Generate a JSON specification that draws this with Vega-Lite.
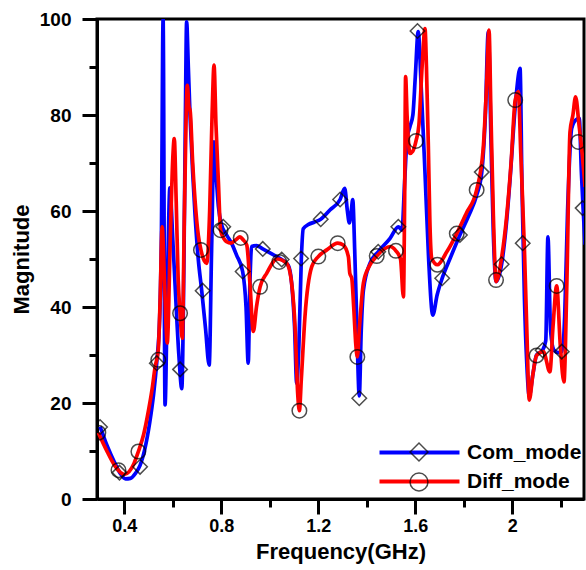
{
  "$schema": "https://vega.github.io/schema/vega-lite/v6.json",
  "width": 487,
  "height": 480,
  "autosize": {"type": "none"},
  "padding": {"left": 97, "top": 19, "right": 2, "bottom": 71},
  "background": "white",
  "config": {
    "view": {"stroke": "black", "strokeWidth": 3},
    "font": "Liberation Sans",
    "axis": {
      "grid": false,
      "domainColor": "black",
      "domainWidth": 3,
      "tickColor": "black",
      "tickWidth": 3,
      "labelColor": "black",
      "labelFont": "Liberation Sans",
      "labelFontWeight": "bold",
      "labelFontSize": 18,
      "labelPadding": 3,
      "titleFont": "Liberation Sans",
      "titleFontWeight": "bold",
      "titleFontSize": 22,
      "titleColor": "black"
    }
  },
  "datasets": {
    "curves": [
      {"freq":0.300,"mag":15.1,"series":"Com_mode"},{"freq":0.330,"mag":11.0,"series":"Com_mode"},{"freq":0.360,"mag":7.6,"series":"Com_mode"},{"freq":0.385,"mag":5.2,"series":"Com_mode"},{"freq":0.405,"mag":4.2,"series":"Com_mode"},{"freq":0.425,"mag":4.3,"series":"Com_mode"},{"freq":0.445,"mag":5.3,"series":"Com_mode"},{"freq":0.465,"mag":7.0,"series":"Com_mode"},{"freq":0.485,"mag":10.5,"series":"Com_mode"},{"freq":0.505,"mag":16.0,"series":"Com_mode"},{"freq":0.520,"mag":21.5,"series":"Com_mode"},{"freq":0.534,"mag":28.6,"series":"Com_mode"},{"freq":0.546,"mag":38,"series":"Com_mode"},{"freq":0.553,"mag":55,"series":"Com_mode"},{"freq":0.560,"mag":100,"series":"Com_mode"},{"freq":0.568,"mag":19.6,"series":"Com_mode"},{"freq":0.578,"mag":45,"series":"Com_mode"},{"freq":0.588,"mag":64.8,"series":"Com_mode"},{"freq":0.600,"mag":54,"series":"Com_mode"},{"freq":0.612,"mag":42,"series":"Com_mode"},{"freq":0.625,"mag":30,"series":"Com_mode"},{"freq":0.637,"mag":23,"series":"Com_mode"},{"freq":0.646,"mag":50,"series":"Com_mode"},{"freq":0.652,"mag":80,"series":"Com_mode"},{"freq":0.657,"mag":99.4,"series":"Com_mode"},{"freq":0.664,"mag":90,"series":"Com_mode"},{"freq":0.671,"mag":80,"series":"Com_mode"},{"freq":0.682,"mag":68,"series":"Com_mode"},{"freq":0.692,"mag":59,"series":"Com_mode"},{"freq":0.705,"mag":50,"series":"Com_mode"},{"freq":0.719,"mag":43.5,"series":"Com_mode"},{"freq":0.735,"mag":35.5,"series":"Com_mode"},{"freq":0.750,"mag":27.9,"series":"Com_mode"},{"freq":0.760,"mag":52,"series":"Com_mode"},{"freq":0.770,"mag":74.4,"series":"Com_mode"},{"freq":0.778,"mag":68,"series":"Com_mode"},{"freq":0.788,"mag":61,"series":"Com_mode"},{"freq":0.800,"mag":57.3,"series":"Com_mode"},{"freq":0.822,"mag":55,"series":"Com_mode"},{"freq":0.845,"mag":53,"series":"Com_mode"},{"freq":0.863,"mag":50.8,"series":"Com_mode"},{"freq":0.888,"mag":47.4,"series":"Com_mode"},{"freq":0.902,"mag":40,"series":"Com_mode"},{"freq":0.911,"mag":28.3,"series":"Com_mode"},{"freq":0.918,"mag":45,"series":"Com_mode"},{"freq":0.925,"mag":52.6,"series":"Com_mode"},{"freq":0.945,"mag":52.8,"series":"Com_mode"},{"freq":0.971,"mag":52.1,"series":"Com_mode"},{"freq":1.010,"mag":51,"series":"Com_mode"},{"freq":1.049,"mag":49.9,"series":"Com_mode"},{"freq":1.076,"mag":48.7,"series":"Com_mode"},{"freq":1.090,"mag":45,"series":"Com_mode"},{"freq":1.102,"mag":36,"series":"Com_mode"},{"freq":1.111,"mag":24.1,"series":"Com_mode"},{"freq":1.120,"mag":32,"series":"Com_mode"},{"freq":1.130,"mag":50,"series":"Com_mode"},{"freq":1.138,"mag":56.3,"series":"Com_mode"},{"freq":1.160,"mag":57.2,"series":"Com_mode"},{"freq":1.185,"mag":57.7,"series":"Com_mode"},{"freq":1.210,"mag":58.3,"series":"Com_mode"},{"freq":1.248,"mag":60.2,"series":"Com_mode"},{"freq":1.290,"mag":62.4,"series":"Com_mode"},{"freq":1.309,"mag":64.7,"series":"Com_mode"},{"freq":1.320,"mag":60,"series":"Com_mode"},{"freq":1.328,"mag":57.5,"series":"Com_mode"},{"freq":1.336,"mag":60,"series":"Com_mode"},{"freq":1.342,"mag":62.4,"series":"Com_mode"},{"freq":1.350,"mag":52,"series":"Com_mode"},{"freq":1.358,"mag":38,"series":"Com_mode"},{"freq":1.369,"mag":21.5,"series":"Com_mode"},{"freq":1.377,"mag":35,"series":"Com_mode"},{"freq":1.386,"mag":43.5,"series":"Com_mode"},{"freq":1.413,"mag":49.1,"series":"Com_mode"},{"freq":1.447,"mag":51.5,"series":"Com_mode"},{"freq":1.496,"mag":54.3,"series":"Com_mode"},{"freq":1.530,"mag":56.7,"series":"Com_mode"},{"freq":1.545,"mag":56,"series":"Com_mode"},{"freq":1.556,"mag":66,"series":"Com_mode"},{"freq":1.566,"mag":75,"series":"Com_mode"},{"freq":1.578,"mag":77.6,"series":"Com_mode"},{"freq":1.590,"mag":80,"series":"Com_mode"},{"freq":1.600,"mag":88,"series":"Com_mode"},{"freq":1.612,"mag":97.4,"series":"Com_mode"},{"freq":1.625,"mag":85,"series":"Com_mode"},{"freq":1.640,"mag":68,"series":"Com_mode"},{"freq":1.655,"mag":50,"series":"Com_mode"},{"freq":1.672,"mag":38.3,"series":"Com_mode"},{"freq":1.690,"mag":42.5,"series":"Com_mode"},{"freq":1.711,"mag":46,"series":"Com_mode"},{"freq":1.745,"mag":50.3,"series":"Com_mode"},{"freq":1.784,"mag":55,"series":"Com_mode"},{"freq":1.820,"mag":59,"series":"Com_mode"},{"freq":1.853,"mag":63.3,"series":"Com_mode"},{"freq":1.874,"mag":68,"series":"Com_mode"},{"freq":1.889,"mag":80,"series":"Com_mode"},{"freq":1.901,"mag":97.4,"series":"Com_mode"},{"freq":1.912,"mag":75,"series":"Com_mode"},{"freq":1.922,"mag":55,"series":"Com_mode"},{"freq":1.933,"mag":45.3,"series":"Com_mode"},{"freq":1.956,"mag":48.9,"series":"Com_mode"},{"freq":1.975,"mag":57,"series":"Com_mode"},{"freq":1.990,"mag":66.1,"series":"Com_mode"},{"freq":2.015,"mag":83.5,"series":"Com_mode"},{"freq":2.032,"mag":89.7,"series":"Com_mode"},{"freq":2.040,"mag":65,"series":"Com_mode"},{"freq":2.050,"mag":42,"series":"Com_mode"},{"freq":2.060,"mag":28,"series":"Com_mode"},{"freq":2.070,"mag":21.5,"series":"Com_mode"},{"freq":2.085,"mag":26,"series":"Com_mode"},{"freq":2.100,"mag":30,"series":"Com_mode"},{"freq":2.125,"mag":31,"series":"Com_mode"},{"freq":2.138,"mag":33,"series":"Com_mode"},{"freq":2.147,"mag":54.6,"series":"Com_mode"},{"freq":2.158,"mag":35,"series":"Com_mode"},{"freq":2.172,"mag":31,"series":"Com_mode"},{"freq":2.190,"mag":30.5,"series":"Com_mode"},{"freq":2.204,"mag":30.7,"series":"Com_mode"},{"freq":2.216,"mag":38,"series":"Com_mode"},{"freq":2.228,"mag":60,"series":"Com_mode"},{"freq":2.245,"mag":77.2,"series":"Com_mode"},{"freq":2.262,"mag":79,"series":"Com_mode"},{"freq":2.276,"mag":79.3,"series":"Com_mode"},{"freq":2.285,"mag":68,"series":"Com_mode"},{"freq":2.292,"mag":60.6,"series":"Com_mode"},{"freq":2.300,"mag":53,"series":"Com_mode"},
      {"freq":0.293,"mag":13.8,"series":"Diff_mode"},{"freq":0.330,"mag":9.8,"series":"Diff_mode"},{"freq":0.360,"mag":7.0,"series":"Diff_mode"},{"freq":0.385,"mag":5.5,"series":"Diff_mode"},{"freq":0.400,"mag":5.1,"series":"Diff_mode"},{"freq":0.420,"mag":5.7,"series":"Diff_mode"},{"freq":0.440,"mag":7.4,"series":"Diff_mode"},{"freq":0.458,"mag":9.9,"series":"Diff_mode"},{"freq":0.480,"mag":13.5,"series":"Diff_mode"},{"freq":0.500,"mag":18.5,"series":"Diff_mode"},{"freq":0.515,"mag":23.0,"series":"Diff_mode"},{"freq":0.527,"mag":27.5,"series":"Diff_mode"},{"freq":0.540,"mag":31,"series":"Diff_mode"},{"freq":0.548,"mag":42,"series":"Diff_mode"},{"freq":0.556,"mag":56.7,"series":"Diff_mode"},{"freq":0.566,"mag":45,"series":"Diff_mode"},{"freq":0.577,"mag":32.5,"series":"Diff_mode"},{"freq":0.590,"mag":55,"series":"Diff_mode"},{"freq":0.600,"mag":71,"series":"Diff_mode"},{"freq":0.606,"mag":75.1,"series":"Diff_mode"},{"freq":0.614,"mag":62,"series":"Diff_mode"},{"freq":0.622,"mag":46,"series":"Diff_mode"},{"freq":0.630,"mag":38.7,"series":"Diff_mode"},{"freq":0.639,"mag":33.5,"series":"Diff_mode"},{"freq":0.648,"mag":60,"series":"Diff_mode"},{"freq":0.660,"mag":86.2,"series":"Diff_mode"},{"freq":0.666,"mag":82,"series":"Diff_mode"},{"freq":0.672,"mag":80.7,"series":"Diff_mode"},{"freq":0.682,"mag":70,"series":"Diff_mode"},{"freq":0.692,"mag":62,"series":"Diff_mode"},{"freq":0.705,"mag":55,"series":"Diff_mode"},{"freq":0.716,"mag":51.9,"series":"Diff_mode"},{"freq":0.730,"mag":49.6,"series":"Diff_mode"},{"freq":0.740,"mag":49.1,"series":"Diff_mode"},{"freq":0.752,"mag":60,"series":"Diff_mode"},{"freq":0.762,"mag":80,"series":"Diff_mode"},{"freq":0.770,"mag":90.4,"series":"Diff_mode"},{"freq":0.778,"mag":78,"series":"Diff_mode"},{"freq":0.788,"mag":66.1,"series":"Diff_mode"},{"freq":0.797,"mag":56,"series":"Diff_mode"},{"freq":0.810,"mag":54.3,"series":"Diff_mode"},{"freq":0.822,"mag":53.6,"series":"Diff_mode"},{"freq":0.840,"mag":53.3,"series":"Diff_mode"},{"freq":0.860,"mag":54,"series":"Diff_mode"},{"freq":0.877,"mag":54.6,"series":"Diff_mode"},{"freq":0.890,"mag":54,"series":"Diff_mode"},{"freq":0.905,"mag":52.9,"series":"Diff_mode"},{"freq":0.918,"mag":45,"series":"Diff_mode"},{"freq":0.932,"mag":34.9,"series":"Diff_mode"},{"freq":0.945,"mag":40,"series":"Diff_mode"},{"freq":0.960,"mag":44.2,"series":"Diff_mode"},{"freq":0.987,"mag":47,"series":"Diff_mode"},{"freq":1.030,"mag":50,"series":"Diff_mode"},{"freq":1.070,"mag":49.1,"series":"Diff_mode"},{"freq":1.090,"mag":45,"series":"Diff_mode"},{"freq":1.105,"mag":35,"series":"Diff_mode"},{"freq":1.115,"mag":22,"series":"Diff_mode"},{"freq":1.122,"mag":18.4,"series":"Diff_mode"},{"freq":1.130,"mag":25,"series":"Diff_mode"},{"freq":1.145,"mag":38,"series":"Diff_mode"},{"freq":1.173,"mag":48.4,"series":"Diff_mode"},{"freq":1.200,"mag":50.5,"series":"Diff_mode"},{"freq":1.235,"mag":51.9,"series":"Diff_mode"},{"freq":1.280,"mag":53.3,"series":"Diff_mode"},{"freq":1.303,"mag":52.9,"series":"Diff_mode"},{"freq":1.324,"mag":50.5,"series":"Diff_mode"},{"freq":1.330,"mag":47,"series":"Diff_mode"},{"freq":1.338,"mag":46,"series":"Diff_mode"},{"freq":1.346,"mag":40,"series":"Diff_mode"},{"freq":1.355,"mag":32,"series":"Diff_mode"},{"freq":1.361,"mag":29.6,"series":"Diff_mode"},{"freq":1.370,"mag":36,"series":"Diff_mode"},{"freq":1.386,"mag":45,"series":"Diff_mode"},{"freq":1.410,"mag":48.5,"series":"Diff_mode"},{"freq":1.441,"mag":50.6,"series":"Diff_mode"},{"freq":1.496,"mag":52.6,"series":"Diff_mode"},{"freq":1.520,"mag":51.7,"series":"Diff_mode"},{"freq":1.539,"mag":50,"series":"Diff_mode"},{"freq":1.551,"mag":42.1,"series":"Diff_mode"},{"freq":1.556,"mag":62,"series":"Diff_mode"},{"freq":1.560,"mag":88,"series":"Diff_mode"},{"freq":1.566,"mag":80,"series":"Diff_mode"},{"freq":1.578,"mag":72,"series":"Diff_mode"},{"freq":1.589,"mag":72.4,"series":"Diff_mode"},{"freq":1.603,"mag":74.6,"series":"Diff_mode"},{"freq":1.615,"mag":78,"series":"Diff_mode"},{"freq":1.628,"mag":90,"series":"Diff_mode"},{"freq":1.640,"mag":98,"series":"Diff_mode"},{"freq":1.646,"mag":90,"series":"Diff_mode"},{"freq":1.654,"mag":73,"series":"Diff_mode"},{"freq":1.660,"mag":58,"series":"Diff_mode"},{"freq":1.668,"mag":50.1,"series":"Diff_mode"},{"freq":1.691,"mag":48.8,"series":"Diff_mode"},{"freq":1.730,"mag":51.5,"series":"Diff_mode"},{"freq":1.771,"mag":55.3,"series":"Diff_mode"},{"freq":1.810,"mag":59.5,"series":"Diff_mode"},{"freq":1.853,"mag":64.4,"series":"Diff_mode"},{"freq":1.880,"mag":73,"series":"Diff_mode"},{"freq":1.893,"mag":85,"series":"Diff_mode"},{"freq":1.904,"mag":97.7,"series":"Diff_mode"},{"freq":1.912,"mag":80,"series":"Diff_mode"},{"freq":1.922,"mag":59,"series":"Diff_mode"},{"freq":1.933,"mag":45.3,"series":"Diff_mode"},{"freq":1.955,"mag":50,"series":"Diff_mode"},{"freq":1.977,"mag":59,"series":"Diff_mode"},{"freq":1.995,"mag":70,"series":"Diff_mode"},{"freq":2.012,"mag":83.1,"series":"Diff_mode"},{"freq":2.025,"mag":84.9,"series":"Diff_mode"},{"freq":2.035,"mag":72,"series":"Diff_mode"},{"freq":2.050,"mag":52,"series":"Diff_mode"},{"freq":2.060,"mag":35,"series":"Diff_mode"},{"freq":2.070,"mag":20.6,"series":"Diff_mode"},{"freq":2.085,"mag":26,"series":"Diff_mode"},{"freq":2.100,"mag":29.9,"series":"Diff_mode"},{"freq":2.128,"mag":30.7,"series":"Diff_mode"},{"freq":2.155,"mag":26.5,"series":"Diff_mode"},{"freq":2.168,"mag":36,"series":"Diff_mode"},{"freq":2.183,"mag":44.4,"series":"Diff_mode"},{"freq":2.198,"mag":32,"series":"Diff_mode"},{"freq":2.213,"mag":24.4,"series":"Diff_mode"},{"freq":2.225,"mag":45,"series":"Diff_mode"},{"freq":2.238,"mag":76.5,"series":"Diff_mode"},{"freq":2.250,"mag":80,"series":"Diff_mode"},{"freq":2.261,"mag":83.8,"series":"Diff_mode"},{"freq":2.275,"mag":78,"series":"Diff_mode"},{"freq":2.286,"mag":73,"series":"Diff_mode"},{"freq":2.300,"mag":65,"series":"Diff_mode"}
    ],
    "markers": [
      {"freq":0.300,"mag":15.0,"mode":"Com_mode"},{"freq":0.380,"mag":5.5,"mode":"Com_mode"},{"freq":0.465,"mag":6.7,"mode":"Com_mode"},{"freq":0.534,"mag":28.3,"mode":"Com_mode"},{"freq":0.630,"mag":27.0,"mode":"Com_mode"},{"freq":0.723,"mag":43.4,"mode":"Com_mode"},{"freq":0.808,"mag":56.7,"mode":"Com_mode"},{"freq":0.888,"mag":47.4,"mode":"Com_mode"},{"freq":0.971,"mag":52.1,"mode":"Com_mode"},{"freq":1.049,"mag":49.9,"mode":"Com_mode"},{"freq":1.129,"mag":50.1,"mode":"Com_mode"},{"freq":1.210,"mag":58.3,"mode":"Com_mode"},{"freq":1.290,"mag":62.4,"mode":"Com_mode"},{"freq":1.369,"mag":21.0,"mode":"Com_mode"},{"freq":1.447,"mag":51.5,"mode":"Com_mode"},{"freq":1.530,"mag":56.7,"mode":"Com_mode"},{"freq":1.609,"mag":97.5,"mode":"Com_mode"},{"freq":1.711,"mag":46.0,"mode":"Com_mode"},{"freq":1.784,"mag":55.0,"mode":"Com_mode"},{"freq":1.874,"mag":68.1,"mode":"Com_mode"},{"freq":1.956,"mag":48.9,"mode":"Com_mode"},{"freq":2.043,"mag":53.3,"mode":"Com_mode"},{"freq":2.125,"mag":31.0,"mode":"Com_mode"},{"freq":2.204,"mag":30.7,"mode":"Com_mode"},{"freq":2.290,"mag":60.6,"mode":"Com_mode"},
      {"freq":0.293,"mag":13.8,"mode":"Diff_mode"},{"freq":0.376,"mag":6.0,"mode":"Diff_mode"},{"freq":0.458,"mag":9.9,"mode":"Diff_mode"},{"freq":0.540,"mag":29.0,"mode":"Diff_mode"},{"freq":0.630,"mag":38.7,"mode":"Diff_mode"},{"freq":0.716,"mag":51.9,"mode":"Diff_mode"},{"freq":0.797,"mag":56.0,"mode":"Diff_mode"},{"freq":0.880,"mag":54.4,"mode":"Diff_mode"},{"freq":0.960,"mag":44.2,"mode":"Diff_mode"},{"freq":1.039,"mag":49.4,"mode":"Diff_mode"},{"freq":1.122,"mag":18.4,"mode":"Diff_mode"},{"freq":1.200,"mag":50.5,"mode":"Diff_mode"},{"freq":1.280,"mag":53.3,"mode":"Diff_mode"},{"freq":1.361,"mag":29.6,"mode":"Diff_mode"},{"freq":1.441,"mag":50.6,"mode":"Diff_mode"},{"freq":1.520,"mag":51.7,"mode":"Diff_mode"},{"freq":1.603,"mag":74.6,"mode":"Diff_mode"},{"freq":1.691,"mag":48.8,"mode":"Diff_mode"},{"freq":1.771,"mag":55.3,"mode":"Diff_mode"},{"freq":1.853,"mag":64.4,"mode":"Diff_mode"},{"freq":1.933,"mag":45.6,"mode":"Diff_mode"},{"freq":2.012,"mag":83.1,"mode":"Diff_mode"},{"freq":2.100,"mag":29.9,"mode":"Diff_mode"},{"freq":2.183,"mag":44.4,"mode":"Diff_mode"},{"freq":2.272,"mag":74.4,"mode":"Diff_mode"}
    ]
  },
  "layer": [
    {
      "data": {"name": "curves"},
      "mark": {"type": "line", "strokeWidth": 3.7, "interpolate": "monotone", "clip": true},
      "encoding": {
        "x": {
          "field": "freq", "type": "quantitative",
          "scale": {"domain": [0.2874, 2.2957], "nice": false, "zero": false},
          "axis": {
            "title": "Frequency(GHz)",
            "titlePadding": 6,
            "values": [0.4, 0.6, 0.8, 1.0, 1.2, 1.4, 1.6, 1.8, 2.0, 2.2],
            "labelExpr": "round(datum.value*5) % 2 == 0 ? format(datum.value, '~g') : ''",
            "tickSize": {"condition": {"test": "round(datum.value*5) % 2 == 0", "value": 15}, "value": 8}
          }
        },
        "y": {
          "field": "mag", "type": "quantitative",
          "scale": {"domain": [0, 100], "nice": false},
          "axis": {
            "title": "Magnitude",
            "titlePadding": 6,
            "labelPadding": 11,
            "labelFontSize": 19,
            "values": [0, 10, 20, 30, 40, 50, 60, 70, 80, 90, 100],
            "labelExpr": "datum.value % 20 == 0 ? datum.label : ''",
            "tickSize": {"condition": {"test": "datum.value % 20 == 0", "value": 15}, "value": 8}
          }
        },
        "color": {
          "field": "series", "type": "nominal",
          "scale": {"range": ["#0000ff", "#ff0000"]},
          "legend": {
            "orient": "none", "legendX": 312, "legendY": 423, "title": null, "padding": 0,
            "symbolType": "M-20,0H20", "symbolSize": 16, "symbolStrokeWidth": 4,
            "labelFont": "Liberation Sans", "labelFontSize": 21, "labelFontWeight": "bold", "labelColor": "black",
            "labelOffset": 37, "rowPadding": 7
          }
        }
      }
    },
    {
      "data": {"name": "markers"},
      "mark": {"type": "point", "filled": false, "stroke": "black", "strokeWidth": 1.5, "size": 210, "clip": true},
      "encoding": {
        "x": {"field": "freq", "type": "quantitative"},
        "y": {"field": "mag", "type": "quantitative"},
        "shape": {
          "field": "mode", "type": "nominal",
          "scale": {"range": ["diamond", "circle"]},
          "legend": {
            "orient": "none", "legendX": 312, "legendY": 423, "title": null, "padding": 0,
            "symbolSize": 320, "symbolStrokeColor": "black", "symbolFillColor": "transparent", "symbolStrokeWidth": 1.5,
            "labelExpr": "''", "labelFontSize": 19, "rowPadding": 6
          }
        }
      }
    }
  ]
}
